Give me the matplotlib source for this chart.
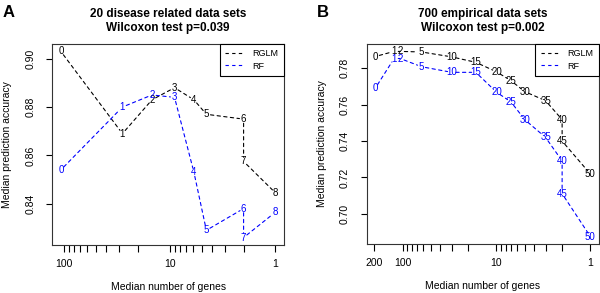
import numpy as np
import matplotlib
matplotlib.use('Agg')
import matplotlib.pyplot as plt
from matplotlib.ticker import FixedLocator, FixedFormatter, NullLocator

plt.rcParams['font.family'] = ['Liberation Sans', 'DejaVu Sans']

# panel A: 20 disease related data sets
genes_a = [107, 28, 14.7, 9.0, 5.9, 4.5, 2.0, 2.0, 1.0]
labels_a = ['0', '1', '2', '3', '4', '5', '6', '7', '8']
rglm_a = [0.903, 0.869, 0.883, 0.888, 0.883, 0.877, 0.875, 0.8575, 0.8445]
rf_a = [0.854, 0.880, 0.885, 0.884, 0.853, 0.829, 0.838, 0.826, 0.8365]
yticks_a = [0.84, 0.86, 0.88, 0.90]
xticks_a = [1, 2, 3, 4, 5, 6, 7, 8, 9, 10, 20, 30, 40, 50, 60, 70, 80, 90, 100]

# panel B: 700 empirical data sets
genes_b = [195, 123, 106, 63, 30, 16.6, 10, 7.0, 5.0, 3.0, 2.0, 2.0, 1.0]
labels_b = ['0', '1', '2', '5', '10', '15', '20', '25', '30', '35', '40', '45', '50']
rglm_b = [0.7865, 0.7893, 0.7893, 0.789, 0.7863, 0.7833, 0.7781, 0.7732,
          0.7672, 0.7622, 0.7518, 0.740, 0.7219]
rf_b = [0.7691, 0.7854, 0.7854, 0.7809, 0.7778, 0.7778, 0.7669, 0.7615,
        0.7518, 0.742, 0.7291, 0.7111, 0.6875]
yticks_b = [0.70, 0.72, 0.74, 0.76, 0.78]
xticks_b = xticks_a + [200]

labeled = {1: '1', 10: '10', 100: '100', 200: '200'}
dash = (0, (3, 3))


def draw_series(ax, x, y, labels, color):
    # R type="b": dashed segments that stop short of the labels
    for i in range(len(x) - 1):
        ax.annotate('', xy=(x[i + 1], y[i + 1]), xytext=(x[i], y[i]),
                    arrowprops=dict(arrowstyle='-', color=color, lw=0.8,
                                    linestyle=dash, shrinkA=3, shrinkB=3))
    for xi, yi, s in zip(x, y, labels):
        ax.text(xi, yi, s, color=color, fontsize=7, ha='center', va='center')


def panel(ax, genes, rglm, rf, labels, yticks, xticks, title, lx):
    draw_series(ax, genes, rglm, labels, 'black')
    draw_series(ax, genes, rf, labels, 'blue')
    ax.plot([], [], color='black', lw=0.8, linestyle=dash, label='RGLM')
    ax.plot([], [], color='blue', lw=0.8, linestyle=dash, label='RF')

    ax.set_xscale('log')
    lo, hi = np.log10(min(genes)), np.log10(max(genes))
    pad = 0.04 * (hi - lo)
    ax.set_xlim(10 ** (hi + pad), 10 ** (lo - pad))
    ymin = min(min(rglm), min(rf))
    ymax = max(max(rglm), max(rf))
    ypad = 0.04 * (ymax - ymin)
    ax.set_ylim(ymin - ypad, ymax + ypad)

    ax.xaxis.set_major_locator(FixedLocator(xticks))
    ax.xaxis.set_major_formatter(FixedFormatter([labeled.get(t, '') for t in xticks]))
    ax.xaxis.set_minor_locator(NullLocator())
    ax.set_yticks(yticks)
    ax.set_yticklabels(['%.2f' % v for v in yticks])
    ax.tick_params(axis='x', direction='out', length=5, width=0.8, pad=5, labelsize=7.5)
    ax.tick_params(axis='y', direction='out', length=4, width=0.8, pad=8, labelsize=7.5,
                   labelrotation=90)
    for t in ax.get_yticklabels():
        t.set_va('center')
    for s in ax.spines.values():
        s.set_linewidth(0.8)
        s.set_color('#333333')

    ax.set_xlabel('Median number of genes', fontsize=7.5, va='center')
    ax.set_ylabel('Median prediction accuracy', fontsize=7.5, va='center')
    ax.xaxis.set_label_coords(0.5, -0.21)
    ax.yaxis.set_label_coords(lx, 0.5)
    ax.text(0.5, 1.115, title, transform=ax.transAxes, ha='center', va='center',
            fontsize=8.5, fontweight='bold', linespacing=1.15)

    leg = ax.legend(loc='upper right', borderaxespad=0, fancybox=False,
                    edgecolor='black', framealpha=1, fontsize=6.5,
                    handlelength=2.0, handletextpad=1.0, labelspacing=0.35,
                    borderpad=0.6)
    leg.get_frame().set_linewidth(0.8)


fig = plt.figure(figsize=(6.0, 2.93), dpi=100)
W, H = 600, 293
ax_a = fig.add_axes([52.3 / W, 1 - 245 / H, 231.7 / W, 201 / H])
ax_b = fig.add_axes([366.7 / W, 1 - 244 / H, 232.3 / W, 200 / H])

panel(ax_a, genes_a, rglm_a, rf_a, labels_a, yticks_a, xticks_a,
      '20 disease related data sets\nWilcoxon test p=0.039', -0.196)
panel(ax_b, genes_b, rglm_b, rf_b, labels_b, yticks_b, xticks_b,
      '700 empirical data sets\nWilcoxon test p=0.002', -0.192)

fig.text(8.5 / W, 1 - 12.5 / H, 'A', fontsize=12, fontweight='bold', ha='center', va='center')
fig.text(322.7 / W, 1 - 12.5 / H, 'B', fontsize=12, fontweight='bold', ha='center', va='center')

fig.savefig('out.png', dpi=100)
